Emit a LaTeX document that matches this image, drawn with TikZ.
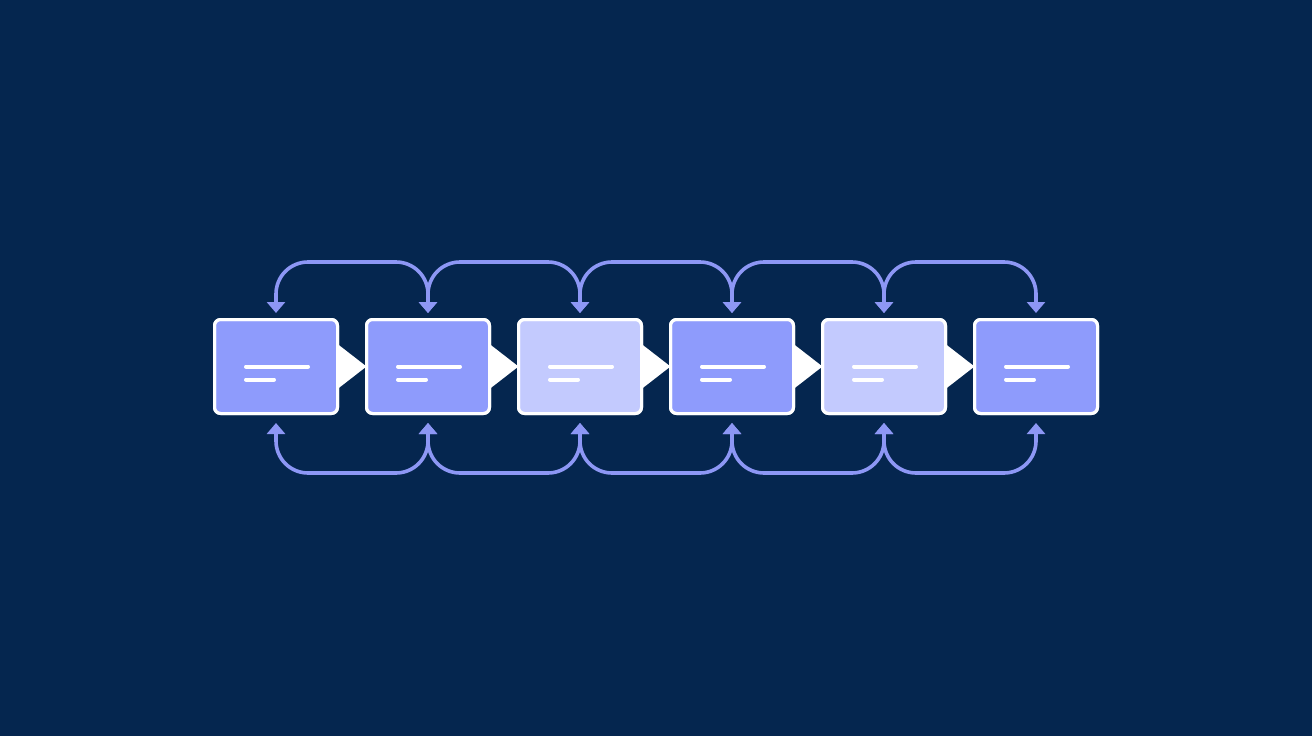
\documentclass[tikz,border=0pt]{standalone}
\usetikzlibrary{arrows.meta}
\definecolor{bgnavy}{HTML}{05264F}
\definecolor{boxdark}{HTML}{8E9BFC}
\definecolor{boxlight}{HTML}{C3CAFE}
\definecolor{arccol}{HTML}{8D97F5}
\tikzset{
  stagebox/.style={rectangle, rounded corners=6pt, draw=white, line width=3pt,
    minimum width=123pt, minimum height=94pt, inner sep=0pt, outer sep=0pt},
  darkbox/.style={stagebox, fill=boxdark},
  lightbox/.style={stagebox, fill=boxlight},
  arcline/.style={draw=arccol, line width=3.6pt, rounded corners=32pt,
    {Triangle[length=11pt,width=18pt]}-{Triangle[length=11pt,width=18pt]}},
  txtline/.style={draw=white, line width=4pt, line cap=round},
  pointer/.style={fill=white},
}
\begin{document}
\begin{tikzpicture}[x=1pt,y=-1pt]
\fill[bgnavy] (0,0) rectangle (1312,736);
\useasboundingbox (0,0) rectangle (1312,736);
% boxes
\foreach \i/\sty in {1/darkbox,2/darkbox,3/lightbox,4/darkbox,5/lightbox,6/darkbox}{
  \path (276+152*\i-152,366.5) node[\sty] (b\i) {};
}
% triangles between boxes
\foreach \i [evaluate=\i as \j using int(\i+1)] in {1,...,5}{
  \fill[pointer] ([shift={(0,-22.5)}]b\i.east) -- ([shift={(0,22.5)}]b\i.east) -- (b\j.west) -- cycle;
}
% redraw box borders on top so triangle base sits behind
\foreach \i in {1,...,6}{
  \draw[white, line width=3pt, rounded corners=6pt] (b\i.south west) rectangle (b\i.north east);
}
% text lines
\foreach \i in {1,...,6}{
  \draw[txtline] ([shift={(-30,0)}]b\i.center) -- ++(62,0);
  \draw[txtline] ([shift={(-30,13)}]b\i.center) -- ++(28,0);
}
% arc endpoints
\foreach \i in {1,...,6}{
  \coordinate (t\i) at ([yshift=6.5pt]b\i.north);
  \coordinate (u\i) at ([yshift=-9.5pt]b\i.south);
}
\foreach \i [evaluate=\i as \j using int(\i+1)] in {1,...,5}{
  \draw[arcline] (t\i) -- ++(0,-51) -| (t\j);
  \draw[arcline] (u\i) -- ++(0,50) -| (u\j);
}
\end{tikzpicture}
\end{document}
